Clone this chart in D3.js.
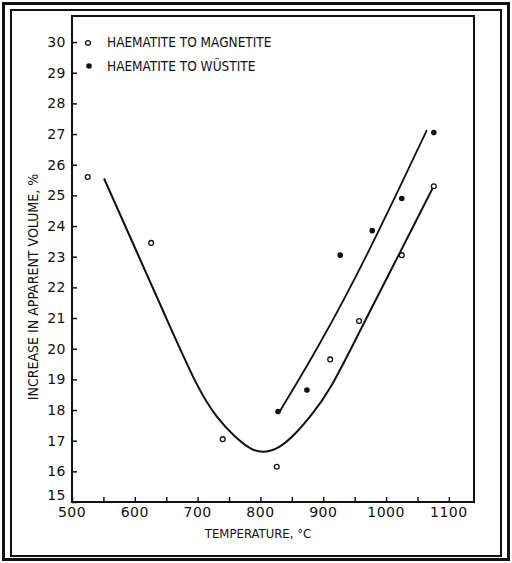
<!DOCTYPE html>
<html>
<head>
<meta charset="utf-8">
<script src="https://cdn.jsdelivr.net/npm/d3@7"></script>
<style>
  html, body { margin: 0; padding: 0; background: #fff; }
  svg { display: block; }
</style>
</head>
<body>
<svg id="chart" width="512" height="563"></svg>
<script>
// Haematite reduction: increase in apparent volume vs. temperature
const magnetiteTemp = [525, 626, 740, 826, 911, 957, 1025, 1076];
const magnetiteVol  = [25.6, 23.45, 17.05, 16.15, 19.65, 20.9, 23.05, 25.3];

const wustiteTemp = [828, 874, 927, 978, 1025, 1076];
const wustiteVol  = [17.95, 18.65, 23.05, 23.85, 24.9, 27.05];

// Smoothed curve through the magnetite results
const magnetiteFitTemp = [551, 600, 650, 700, 730, 760, 785, 805, 830, 855, 880, 910, 960, 1020, 1075];
const magnetiteFitVol  = [25.55, 23.3, 21.0, 18.7, 17.75, 17.1, 16.7, 16.6, 16.75, 17.2, 17.8, 18.6, 20.65, 23.05, 25.27];

// Line through the wüstite results
const wustiteFitTemp = [830, 890, 967, 1065];
const wustiteFitVol  = [17.93, 19.96, 22.89, 27.13];

const xTicks = [500, 550, 600, 650, 700, 750, 800, 850, 900, 950, 1000, 1050, 1100];
const xTickLabels = [500, 600, 700, 800, 900, 1000, 1100];
const yTicks = [15, 16, 17, 18, 19, 20, 21, 22, 23, 24, 25, 26, 27, 28, 29, 30];

const legendLabels = ["HAEMATITE TO MAGNETITE", "HAEMATITE TO WÜSTITE"];

const svg = d3.select("#chart");
const ink = "#111";
const numFont = "'DejaVu Sans', sans-serif";
const textFont = "'Liberation Sans Narrow', 'DejaVu Sans Condensed', sans-serif";

// double page border
svg.append("rect").attr("x", 3.5).attr("y", 3.5).attr("width", 505).attr("height", 556)
  .attr("fill", "none").attr("stroke", ink).attr("stroke-width", 3);
svg.append("rect").attr("x", 11).attr("y", 10).attr("width", 490).attr("height", 546)
  .attr("fill", "none").attr("stroke", ink).attr("stroke-width", 2);

const x = d3.scaleLinear().domain([500, 1140]).range([72, 474]);
const y = d3.scaleLinear().domain([15, 30.85]).range([502, 16]);

// plot frame
svg.append("rect")
  .attr("x", x(500)).attr("y", y(30.85))
  .attr("width", x(1140) - x(500)).attr("height", y(15) - y(30.85))
  .attr("fill", "none").attr("stroke", ink).attr("stroke-width", 2);

// x axis: inward ticks every 50, labels every 100
const xAxis = svg.append("g").attr("transform", `translate(0,${y(15)})`)
  .call(d3.axisBottom(x).tickValues(xTicks).tickSize(-5).tickFormat(""));
xAxis.select(".domain").remove();
xAxis.selectAll(".tick line").attr("stroke", ink).attr("stroke-width", 1.5);

svg.append("g").selectAll("text").data(xTickLabels).join("text")
  .attr("x", d => x(d)).attr("y", 517)
  .attr("text-anchor", "middle")
  .attr("font-family", numFont).attr("font-size", 14).attr("letter-spacing", 0.5)
  .attr("fill", ink).text(d => d);

// y axis: inward ticks every unit
const yAxis = svg.append("g").attr("transform", `translate(${x(500)},0)`)
  .call(d3.axisLeft(y).tickValues(yTicks).tickSize(-5).tickFormat(""));
yAxis.select(".domain").remove();
yAxis.selectAll(".tick line").attr("stroke", ink).attr("stroke-width", 1.5);

svg.append("g").selectAll("text").data(yTicks).join("text")
  .attr("x", 66).attr("y", d => d === 15 ? y(d) - 2 : y(d) + 5)
  .attr("text-anchor", "end")
  .attr("font-family", numFont).attr("font-size", 14).attr("letter-spacing", 0.5)
  .attr("fill", ink).text(d => d);

// axis titles
svg.append("text")
  .attr("x", 258).attr("y", 538)
  .attr("text-anchor", "middle")
  .attr("font-family", textFont).attr("font-size", 13)
  .attr("fill", ink).text("TEMPERATURE, °C");

svg.append("text")
  .attr("transform", "translate(38,287) rotate(-90)")
  .attr("text-anchor", "middle")
  .attr("font-family", textFont).attr("font-size", 14)
  .attr("fill", ink).text("INCREASE IN APPARENT VOLUME, %");

// fitted curves
const smooth = d3.line().x(d => x(d[0])).y(d => y(d[1])).curve(d3.curveBasis);
svg.append("path")
  .datum(d3.zip(magnetiteFitTemp, magnetiteFitVol))
  .attr("d", smooth).attr("fill", "none").attr("stroke", ink).attr("stroke-width", 2);
svg.append("path")
  .datum(d3.zip(wustiteFitTemp, wustiteFitVol))
  .attr("d", smooth).attr("fill", "none").attr("stroke", ink).attr("stroke-width", 1.8);

// data points
svg.append("g").selectAll("circle").data(d3.zip(magnetiteTemp, magnetiteVol)).join("circle")
  .attr("cx", d => x(d[0])).attr("cy", d => y(d[1])).attr("r", 2.4)
  .attr("fill", "#fff").attr("stroke", ink).attr("stroke-width", 1.3);
svg.append("g").selectAll("circle").data(d3.zip(wustiteTemp, wustiteVol)).join("circle")
  .attr("cx", d => x(d[0])).attr("cy", d => y(d[1])).attr("r", 2.8)
  .attr("fill", ink);

// legend
const legend = svg.append("g");
legend.append("circle").attr("cx", 88).attr("cy", 43).attr("r", 2.4)
  .attr("fill", "#fff").attr("stroke", ink).attr("stroke-width", 1.3);
legend.append("circle").attr("cx", 89).attr("cy", 66).attr("r", 2.8).attr("fill", ink);
legend.selectAll("text").data(legendLabels).join("text")
  .attr("x", 107).attr("y", (d, i) => 47 + i * 24)
  .attr("font-family", textFont).attr("font-size", 13.5)
  .attr("fill", ink).text(d => d);
</script>
</body>
</html>
